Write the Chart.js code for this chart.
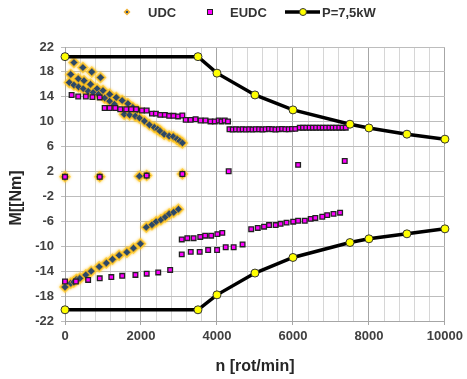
<!DOCTYPE html>
<html><head><meta charset="utf-8">
<script src="https://cdn.jsdelivr.net/npm/chart.js@4/dist/chart.umd.min.js"></script>
<style>html,body{margin:0;padding:0;background:#fff;}#wrap{width:467px;height:379px;position:relative;}</style>
</head><body><div id="wrap"><canvas id="c" width="467" height="379"></canvas></div>
<script>
// ---- text ----
const seriesNames = ['UDC', 'EUDC', 'P=7,5kW'];
const xTitle = 'n [rot/min]';
const yTitle = 'M[[Nm]';
const xTickLabels = [0, 2000, 4000, 6000, 8000, 10000];

// ---- UDC cycle points [n, M] ----
const udcPoints = [
  [235,19.5],[470,18.7],[705,18.0],[935,17.1],
  [150,17.6],[350,16.9],[500,16.6],[670,16.0],[845,15.3],[1000,15.0],[1175,14.4],[1350,13.9],[1505,13.4],[1655,12.9],[1785,12.3],[1900,11.9],
  [115,16.3],[235,15.9],[355,15.6],[480,15.3],[610,14.9],[740,14.7],[880,14.4],[1045,13.8],[1175,13.3],[1300,12.8],
  [1560,11.2],[1700,11.1],[1850,10.9],[1960,10.6],[2090,10.1],[2220,9.5],[2350,9.1],[2440,8.8],[2500,8.5],[2610,8.0],[2740,7.7],[2850,7.6],[2950,7.2],[3020,6.9],[3090,6.6],
  [0,1.15],[914,1.15],[1958,1.25],[2150,1.35],[3089,1.6],
  [0,-16.55],[150,-15.95],[230,-15.75],[300,-15.35],[390,-15.15],[548,-14.6],[690,-14.0],[900,-13.3],[1088,-12.7],[1250,-12.1],[1425,-11.45],[1628,-10.95],[1802,-10.3],[1985,-9.6],
  [2140,-6.95],[2289,-6.55],[2400,-6.05],[2524,-5.75],[2637,-5.3],[2742,-4.8],[2860,-4.55],[2985,-4.05]
];

// ---- EUDC cycle points [n, M] ----
const eudcPoints = [
  [174,14.3],[348,14.05],[548,14.05],[722,13.95],[914,13.9],
  [1044,12.2],[1175,12.2],[1323,12.2],[1454,12.0],[1610,12.0],[1741,12.0],[1872,12.0],[2028,11.8],[2150,11.8],
  [2289,11.3],[2393,11.3],[2507,11.1],[2628,11.1],[2742,10.95],[2855,10.95],[2977,10.85],[3089,11.0],
  [3177,10.3],[3307,10.3],[3438,10.4],[3569,10.2],[3699,10.2],[3830,10.05],[3943,10.05],[4047,10.2],[4120,10.05],[4204,10.2],[4290,10.05],
  [4330,8.8],[4415,8.75],[4500,8.8],[4590,8.75],[4675,8.8],[4760,8.75],[4850,8.8],[4935,8.75],[5020,8.8],[5110,8.8],[5195,8.75],
  [5280,8.8],[5370,8.85],[5455,8.8],[5540,8.75],[5630,8.8],[5715,8.85],[5800,8.8],[5890,8.8],[5975,8.85],[6060,8.85],
  [6180,9.05],[6265,9.05],[6350,9.05],[6440,9.05],[6525,9.05],[6610,9.05],[6700,9.05],[6785,9.05],[6870,9.05],[6960,9.05],
  [7045,9.05],[7130,9.05],[7220,9.05],[7305,9.05],[7390,9.05],
  [0,1.15],[914,1.15],[2150,1.35],[3089,1.6],[4308,2.05],[6136,3.07],[7363,3.7],
  [0,-15.65],[287,-15.65],[609,-15.4],[914,-15.15],[1219,-14.95],[1506,-14.75],[1854,-14.6],[2150,-14.4],[2454,-14.2],[2768,-13.8],
  [3073,-11.3],[3310,-10.9],[3545,-10.9],[3768,-10.6],[4003,-10.6],[4230,-10.15],[4439,-10.15],[4674,-9.7],
  [3073,-8.9],[3220,-8.7],[3385,-8.7],[3560,-8.5],[3690,-8.3],[3847,-8.3],[4010,-8.05],[4140,-7.85],
  [4901,-7.25],[5074,-7.05],[5240,-6.85],[5371,-6.6],[5545,-6.6],[5674,-6.4],[5831,-6.2],[6006,-6.05],[6136,-5.9],
  [6311,-5.9],[6467,-5.6],[6589,-5.45],[6771,-5.25],[6901,-5.0],[7068,-4.8],[7241,-4.6]
];

// ---- constant power limit P = 7.5 kW ----
const powerN = [0, 3500, 4000, 5000, 6000, 7500, 8000, 9000, 10000];
const powerMotorM = [20.45, 20.45, 17.8, 14.3, 11.9, 9.6, 9.0, 8.0, 7.2];
const powerGenM = [-20.2, -20.2, -17.8, -14.3, -11.8, -9.4, -8.8, -8.0, -7.2];

const FONT = "'Liberation Sans', Arial, sans-serif";
const toXY = arr => arr.map(p => ({x: p[0], y: p[1]}));
const zipXY = (xs, ys) => xs.map((x, i) => ({x: x, y: ys[i]}));

// soft yellow halo under the UDC markers (dataset index 4)
const glowPlugin = {
  id: 'glow',
  beforeDatasetDraw(chart, args) {
    if (args.index === 4) {
      const ctx = chart.ctx;
      ctx.save();
      ctx.shadowColor = 'rgba(255,190,0,1)';
      ctx.shadowBlur = 3;
    }
  },
  afterDatasetDraw(chart, args) {
    if (args.index === 4) chart.ctx.restore();
  }
};

const decorPlugin = {
  id: 'decor',
  afterDraw(chart) {
    const ctx = chart.ctx;
    const ca = chart.chartArea;
    ctx.save();
    ctx.fillStyle = '#262626';
    ctx.font = 'bold 16px ' + FONT;
    ctx.textAlign = 'center';
    ctx.textBaseline = 'middle';
    ctx.fillText(xTitle, (ca.left + ca.right) / 2, 367);
    ctx.save();
    ctx.translate(17, 198);
    ctx.rotate(-Math.PI / 2);
    ctx.fillText(yTitle, 0, 0);
    ctx.restore();

    const ly = 12;
    ctx.font = 'bold 13px ' + FONT;
    ctx.textAlign = 'left';
    ctx.beginPath();
    ctx.moveTo(127, ly - 3.5); ctx.lineTo(130.5, ly); ctx.lineTo(127, ly + 3.5); ctx.lineTo(123.5, ly); ctx.closePath();
    ctx.fillStyle = '#F0B030'; ctx.fill();
    ctx.fillStyle = '#2F4D6E'; ctx.fillRect(126, ly - 1, 2, 2);
    ctx.fillStyle = '#333333';
    ctx.fillText(seriesNames[0], 148, ly + 1);
    ctx.fillStyle = '#FF00FF'; ctx.fillRect(207.5, ly - 2.5, 5, 5);
    ctx.strokeStyle = '#222'; ctx.lineWidth = 1; ctx.strokeRect(207.5, ly - 2.5, 5, 5);
    ctx.fillStyle = '#333333';
    ctx.fillText(seriesNames[1], 230, ly + 1);
    ctx.strokeStyle = '#000'; ctx.lineWidth = 3.5;
    ctx.beginPath(); ctx.moveTo(285, ly); ctx.lineTo(320, ly); ctx.stroke();
    ctx.beginPath(); ctx.arc(303, ly, 3.5, 0, Math.PI * 2);
    ctx.fillStyle = '#FFFF00'; ctx.fill();
    ctx.lineWidth = 1; ctx.strokeStyle = '#333'; ctx.stroke();
    ctx.fillStyle = '#333333';
    ctx.fillText(seriesNames[2], 322, ly + 1);
    ctx.restore();
  }
};

const lineStyle = {
  showLine: true,
  borderColor: '#000000',
  borderWidth: 3.5,
  pointRadius: 4,
  pointBackgroundColor: '#FFFF00',
  pointBorderColor: '#333333',
  pointBorderWidth: 1,
  tension: 0,
  clip: false,
  order: 0
};

new Chart(document.getElementById('c'), {
  type: 'scatter',
  data: {
    datasets: [
      { label: seriesNames[0], data: toXY(udcPoints), pointStyle: 'rectRot', pointRadius: 3.8,
        backgroundColor: '#2B4868', borderColor: '#C99A2E', borderWidth: 0.8, clip: false, order: 2 },
      { label: seriesNames[1], data: toXY(eudcPoints), pointStyle: 'rect', pointRadius: 3.3,
        backgroundColor: '#FF00FF', borderColor: '#222222', borderWidth: 1.3, clip: false, order: 1 },
      Object.assign({ label: seriesNames[2], data: zipXY(powerN, powerMotorM) }, lineStyle),
      Object.assign({ label: seriesNames[2] + ' ', data: zipXY(powerN, powerGenM) }, lineStyle),
      { label: seriesNames[0] + ' halo', data: toXY(udcPoints), pointStyle: 'rectRot', pointRadius: 6,
        backgroundColor: 'rgba(255,200,40,0.75)', borderWidth: 0, clip: false, order: 3 }
    ]
  },
  options: {
    responsive: false,
    animation: false,
    events: [],
    layout: { padding: { top: 47, right: 19, left: 0, bottom: 0 } },
    plugins: { legend: { display: false }, tooltip: { enabled: false } },
    scales: {
      x: {
        type: 'linear', min: 0, max: 10000,
        afterFit: s => { s.height = 58; },
        ticks: {
          stepSize: 400, autoSkip: false, maxRotation: 0, padding: 4,
          callback: v => xTickLabels.includes(v) ? String(v) : '',
          font: { family: FONT, size: 13, weight: 'bold' }, color: '#404040'
        },
        grid: {
          color: c => (c.tick && c.tick.value % 2000 === 0) ? '#a6a6a6' : '#d6d6d6',
          tickColor: c => (c.tick && c.tick.value % 2000 === 0) ? '#a6a6a6' : 'rgba(0,0,0,0)',
          lineWidth: 1, tickLength: 4
        },
        border: { color: '#a6a6a6' }
      },
      y: {
        min: -22, max: 22,
        afterFit: s => { s.width = 65; },
        ticks: {
          stepSize: 4, padding: 7,
          font: { family: FONT, size: 13, weight: 'bold' }, color: '#404040'
        },
        grid: { color: '#bdbdbd', lineWidth: 1, tickLength: 4 },
        border: { color: '#a6a6a6' }
      }
    }
  },
  plugins: [glowPlugin, decorPlugin]
});
</script>
</body></html>
